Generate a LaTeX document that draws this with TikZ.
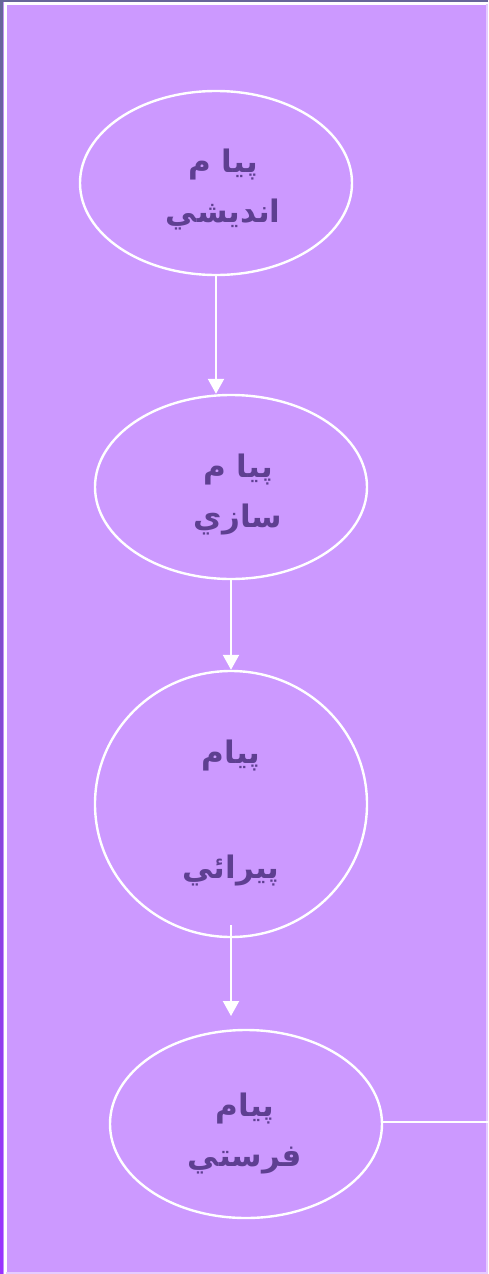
\documentclass[tikz,border=0pt]{standalone}
\usepackage{fontspec}
\TeXXeTstate=1
\newfontfamily\arabicfont[Script=Arabic]{DejaVu Sans}
\usetikzlibrary{arrows.meta,shapes.geometric}
\definecolor{bgpurple}{HTML}{CC99FF}
\definecolor{txtpurple}{HTML}{5E3F91}
\definecolor{edgetop}{HTML}{666699}
\definecolor{edgebot}{HTML}{9933FF}
\definecolor{edgelight}{HTML}{E6CCFF}
\begin{document}
\begin{tikzpicture}[x=1pt,y=-1pt,
  oval/.style={ellipse,draw=white,line width=2.4pt,inner sep=0pt},
  lbl/.style={text=txtpurple,font=\arabicfont\bfseries\fontsize{31}{50}\selectfont,align=center},
  flow/.style={draw=white,line width=2.1pt,-{Triangle[width=16pt,length=15pt]}}]
\useasboundingbox (0,0) rectangle (488,1274);
\fill[bgpurple] (0,0) rectangle (488,1274);
% frame
\shade[top color=edgetop,bottom color=edgebot] (0,0) rectangle (3,1274);
\fill[edgetop] (0,0) rectangle (488,1.8);
\fill[white] (4,2) rectangle (488,4.5);
\fill[white] (4,2) rectangle (6.5,1274);
\fill[edgelight] (486,4) rectangle (488,1274);
\fill[edgelight] (6,1271.5) rectangle (488,1274);
% shapes
\node[oval,minimum width=272pt,minimum height=184pt] (e1) at (216,183) {};
\node[oval,minimum width=272pt,minimum height=184pt] (e2) at (231,487) {};
\node[oval,minimum width=272pt,minimum height=266pt] (e3) at (231,804) {};
\node[oval,minimum width=272pt,minimum height=188pt] (e4) at (246,1124) {};
% texts
\node[lbl] (t1) at (223,190) {\beginR پيا م\endR\\\beginR انديشي\endR};
\node[lbl] (t2) at (238,495) {\beginR پيا م\endR\\\beginR سازي\endR};
\node[lbl] (t3a) at (231,755) {\beginR پيام\endR};
\node[lbl] (t3b) at (231,870) {\beginR پيرائي\endR};
\node[lbl] (t4) at (245,1133) {\beginR پيام\endR\\\beginR فرستي\endR};
% connectors
\coordinate (a3s) at (231,925);
\coordinate (a3e) at (231,1016);
\coordinate (rend) at (488,1122);
\draw[flow] (e1.south) -- (e1.south |- e2.north);
\draw[flow] (e2.south -| 231,0) -- (e3.north);
\draw[flow] (a3s) -- (a3e);
\draw[draw=white,line width=2.1pt] (e4.east |- rend) -- (rend);
\end{tikzpicture}
\end{document}
